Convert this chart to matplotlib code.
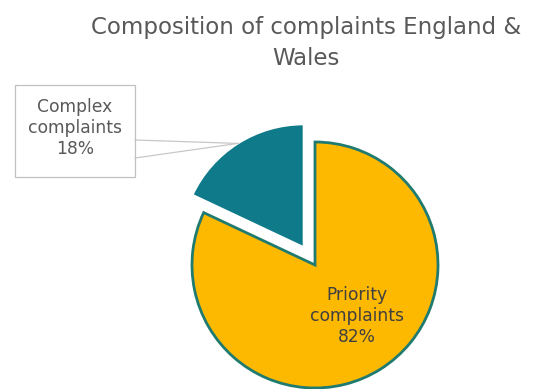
import numpy as np
import matplotlib.pyplot as plt
from matplotlib.patches import Rectangle

# Complaint shares (%)
categories = ["Priority complaints", "Complex complaints"]
shares = [82, 18]
colors = ["#FDB800", "#0F7B8A"]

W, H = 535, 389
fig = plt.figure(figsize=(W / 100, H / 100), dpi=100)
ax = fig.add_axes([0, 0, 1, 1])

cx, cy, r = 315, H - 265, 123
wedges, _ = ax.pie(shares, colors=colors, startangle=90, counterclock=False,
                   radius=r, center=(cx, cy), explode=[0, 21],
                   wedgeprops=dict(linewidth=2, edgecolor="#1F7A70"),
                   frame=True)
wedges[1].set_edgecolor("white")
wedges[1].set_linewidth(1.5)
ax.set_xlim(0, W)
ax.set_ylim(0, H)
ax.set_aspect("equal")
ax.axis("off")

# Title
ax.text(306, H - 43, "Composition of complaints England &\nWales", ha="center",
        va="center", fontsize=16.5, color="#595959", linespacing=1.45)

label_kw = dict(ha="center", va="center", fontsize=12.3, linespacing=1.2)

# Label inside the large slice
name = categories[0].split()
ax.text(357, H - 316, f"{name[0]}\n{name[1]}\n{shares[0]}%", color="#404040", **label_kw)

# Boxed label for the small slice with leader lines to the arc
name = categories[1].split()
ax.add_patch(Rectangle((15, H - 177), 120, 92, fc="white", ec="#C0C0C0", lw=0.9))
ax.text(75, H - 128, f"{name[0]}\n{name[1]}\n{shares[1]}%", color="#595959", **label_kw)

w = wedges[1]
mid = np.deg2rad((w.theta1 + w.theta2) / 2)
tip = (w.center[0] + r * np.cos(mid), w.center[1] + r * np.sin(mid))
for y0 in (H - 140, H - 158):
    ax.plot([135, tip[0]], [y0, tip[1]], color="#C8C8C8", lw=0.9)

fig.savefig("out.png", dpi=100)
